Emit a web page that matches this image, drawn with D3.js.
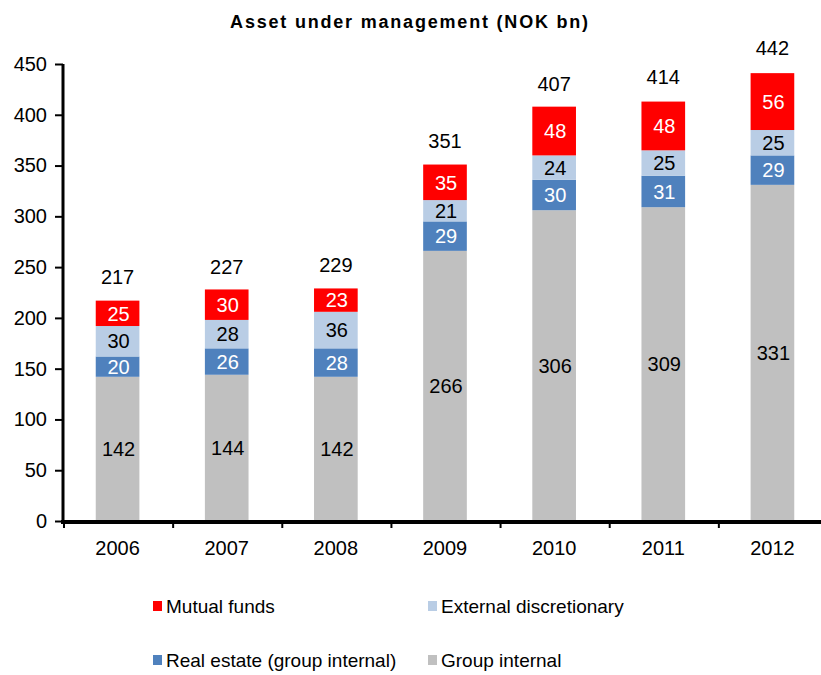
<!DOCTYPE html>
<html lang="en">
<head>
  <meta charset="UTF-8">
  <title>Asset under management</title>
  <script src="https://d3js.org/d3.v7.min.js"></script>
  <style>
    body { margin: 0; background: #fff; }
    text { font-family: "Liberation Sans", Arial, sans-serif; }
  </style>
</head>
<body>
<script>
  // data
  const years = ["2006", "2007", "2008", "2009", "2010", "2011", "2012"];
  const groupInternal = [142, 144, 142, 266, 306, 309, 331];
  const realEstate = [20, 26, 28, 29, 30, 31, 29];
  const externalDisc = [30, 28, 36, 21, 24, 25, 25];
  const mutualFunds = [25, 30, 23, 35, 48, 48, 56];
  const totals = [217, 227, 229, 351, 407, 414, 442];
  const yTicks = [0, 50, 100, 150, 200, 250, 300, 350, 400, 450];

  const seriesKeys = ["group", "real", "ext", "mutual"];
  const seriesNames = {
    mutual: "Mutual funds",
    ext: "External discretionary",
    real: "Real estate (group internal)",
    group: "Group internal"
  };
  const colors = { group: "#c0c0c0", real: "#4f81bd", ext: "#b9cde5", mutual: "#ff0000" };
  const labelColors = { group: "#000", real: "#fff", ext: "#000", mutual: "#fff" };

  const rows = years.map((y, i) => ({
    year: y,
    group: groupInternal[i],
    real: realEstate[i],
    ext: externalDisc[i],
    mutual: mutualFunds[i],
    total: totals[i]
  }));

  const width = 821, height = 675;
  const margin = { top: 64, left: 63, bottom: 154 };
  const plotH = height - margin.top - margin.bottom;
  const fs = "20px";

  const svg = d3.select("body").append("svg")
    .attr("width", width)
    .attr("height", height);

  const x = d3.scaleBand()
    .domain(years)
    .range([margin.left, margin.left + 764])
    .paddingInner(0.6)
    .paddingOuter(0.3);

  const y = d3.scaleLinear()
    .domain([0, 450])
    .range([margin.top + plotH, margin.top]);

  const stack = d3.stack().keys(seriesKeys)(rows);

  // bars
  const layers = svg.selectAll(".layer")
    .data(stack)
    .enter().append("g")
    .attr("class", "layer")
    .attr("fill", d => colors[d.key]);

  layers.selectAll("rect")
    .data(d => d)
    .enter().append("rect")
    .attr("x", d => x(d.data.year))
    .attr("y", d => y(d[1]))
    .attr("width", x.bandwidth())
    .attr("height", d => y(d[0]) - y(d[1]));

  // segment labels
  stack.forEach(layer => {
    svg.selectAll(".lbl-" + layer.key)
      .data(layer)
      .enter().append("text")
      .attr("x", d => x(d.data.year) + x.bandwidth() / 2 + 1)
      .attr("y", d => y((d[0] + d[1]) / 2))
      .attr("dy", "0.36em")
      .attr("text-anchor", "middle")
      .style("font-size", fs)
      .attr("fill", labelColors[layer.key])
      .text(d => d.data[layer.key]);
  });

  // totals
  svg.selectAll(".total")
    .data(rows)
    .enter().append("text")
    .attr("x", d => x(d.year) + x.bandwidth() / 2)
    .attr("y", d => y(d.total) - 24)
    .attr("dy", "0.36em")
    .attr("text-anchor", "middle")
    .style("font-size", fs)
    .text(d => d.total);

  // y axis
  const yAxis = svg.append("g")
    .attr("transform", "translate(" + margin.left + ",0)")
    .call(d3.axisLeft(y).tickValues(yTicks).tickSize(8).tickPadding(8));
  yAxis.select(".domain").attr("stroke-width", 3).attr("d", "M0," + y(450) + "V" + y(0));
  yAxis.selectAll(".tick line").attr("stroke-width", 2);
  yAxis.selectAll("text").style("font-size", fs).attr("fill", "#000");

  // x axis
  const xAxisY = y(0) + 1;
  svg.append("line")
    .attr("x1", margin.left - 2).attr("x2", width)
    .attr("y1", xAxisY).attr("y2", xAxisY)
    .attr("stroke", "#000").attr("stroke-width", 4);

  const step = x.step();
  const boundaries = years.map(yr => x(yr) - x.paddingInner() * step / 2 + 1);
  svg.selectAll(".xtick")
    .data(boundaries)
    .enter().append("line")
    .attr("x1", d => d).attr("x2", d => d)
    .attr("y1", xAxisY).attr("y2", xAxisY + 6)
    .attr("stroke", "#000").attr("stroke-width", 2);

  svg.selectAll(".xlabel")
    .data(years)
    .enter().append("text")
    .attr("x", d => x(d) + x.bandwidth() / 2)
    .attr("y", 548)
    .attr("dy", "0.36em")
    .attr("text-anchor", "middle")
    .style("font-size", fs)
    .text(d => d);

  // title
  svg.append("text")
    .attr("x", 410)
    .attr("y", 22)
    .attr("dy", "0.36em")
    .attr("text-anchor", "middle")
    .style("font-size", "18px")
    .style("font-weight", "bold")
    .style("letter-spacing", "1.8px")
    .text("Asset under management (NOK bn)");

  // legend
  const legendItems = [
    { key: "mutual", lx: 153, ly: 606 },
    { key: "ext", lx: 428, ly: 606 },
    { key: "real", lx: 153, ly: 660 },
    { key: "group", lx: 428, ly: 660 }
  ];
  const legend = svg.selectAll(".legend")
    .data(legendItems)
    .enter().append("g")
    .attr("transform", d => "translate(" + d.lx + "," + d.ly + ")");
  legend.append("rect")
    .attr("x", 0).attr("y", -5)
    .attr("width", 9).attr("height", 10)
    .attr("fill", d => colors[d.key]);
  legend.append("text")
    .attr("x", 13)
    .attr("dy", "0.36em")
    .style("font-size", "19px")
    .text(d => seriesNames[d.key]);
</script>
</body>
</html>
